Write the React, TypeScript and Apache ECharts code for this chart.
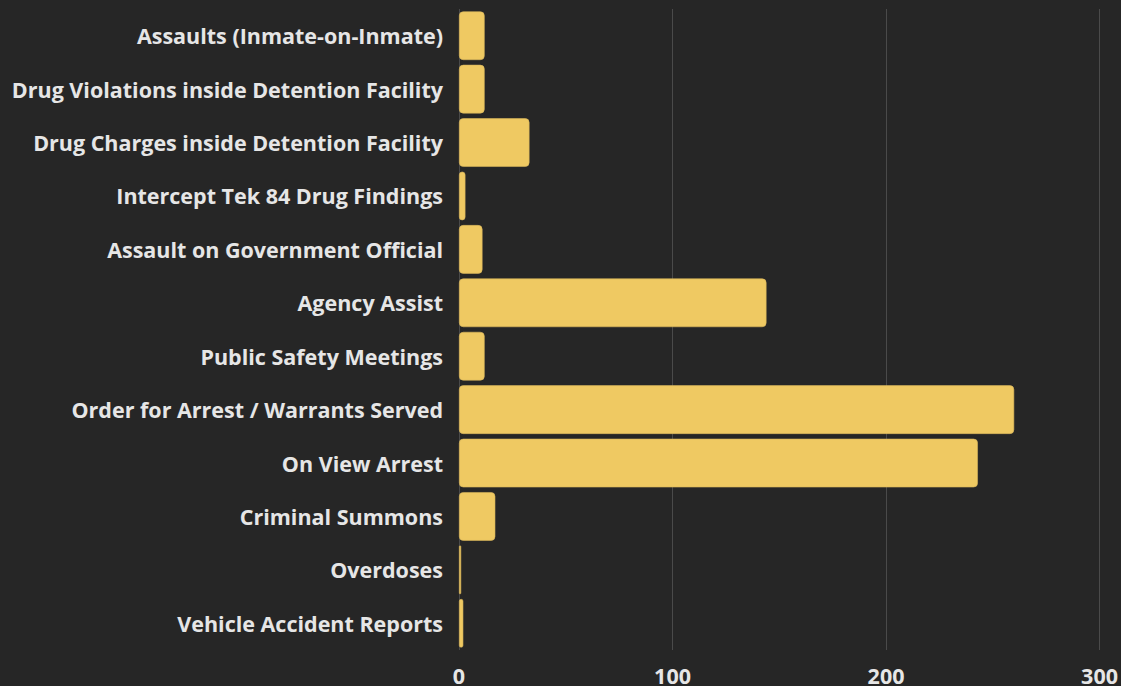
import React, { useEffect, useRef } from "react";
import * as echarts from "echarts";

const categories = [
  "Assaults (Inmate-on-Inmate)",
  "Drug Violations inside Detention Facility",
  "Drug Charges inside Detention Facility",
  "Intercept Tek 84 Drug Findings",
  "Assault on Government Official",
  "Agency Assist",
  "Public Safety Meetings",
  "Order for Arrest / Warrants Served",
  "On View Arrest",
  "Criminal Summons",
  "Overdoses",
  "Vehicle Accident Reports",
];
const values = [12, 12, 33, 3, 11, 144, 12, 260, 243, 17, 1, 2];
const xTicks = { min: 0, max: 300, interval: 100 };

export default function App() {
  const ref = useRef<HTMLDivElement>(null);
  useEffect(() => {
    document.body.style.margin = "0";
    const chart = echarts.init(ref.current!, null, { renderer: "svg" });
    chart.setOption({
      animation: false,
      backgroundColor: "#262626",
      textStyle: { fontFamily: "Open Sans" },
      grid: { left: 459, right: 20, top: 9, bottom: 31, containLabel: false },
      xAxis: {
        type: "value",
        min: xTicks.min,
        max: xTicks.max,
        interval: xTicks.interval,
        axisLine: { show: false },
        axisTick: { show: false },
        splitLine: { show: true, lineStyle: { color: "#4a4a4a", width: 1 } },
        axisLabel: {
          color: "#e6e6e6",
          fontSize: 21.5,
          fontWeight: "bold",
          fontFamily: "Open Sans",
          margin: 14,
        },
      },
      yAxis: {
        type: "category",
        data: categories,
        inverse: true,
        axisLine: { show: false },
        axisTick: { show: false },
        axisLabel: {
          color: "#e6e6e6",
          fontSize: 21.5,
          fontWeight: "bold",
          fontFamily: "Open Sans",
          margin: 16,
        },
      },
      series: [
        {
          type: "bar",
          data: values,
          barCategoryGap: "9%",
          itemStyle: {
            color: "#efc962",
            borderRadius: 4,
            borderColor: "#d9b65a",
            borderWidth: 0.6,
          },
        },
      ],
    });
    return () => chart.dispose();
  }, []);
  return <div ref={ref} style={{ width: 1121, height: 686 }} />;
}
